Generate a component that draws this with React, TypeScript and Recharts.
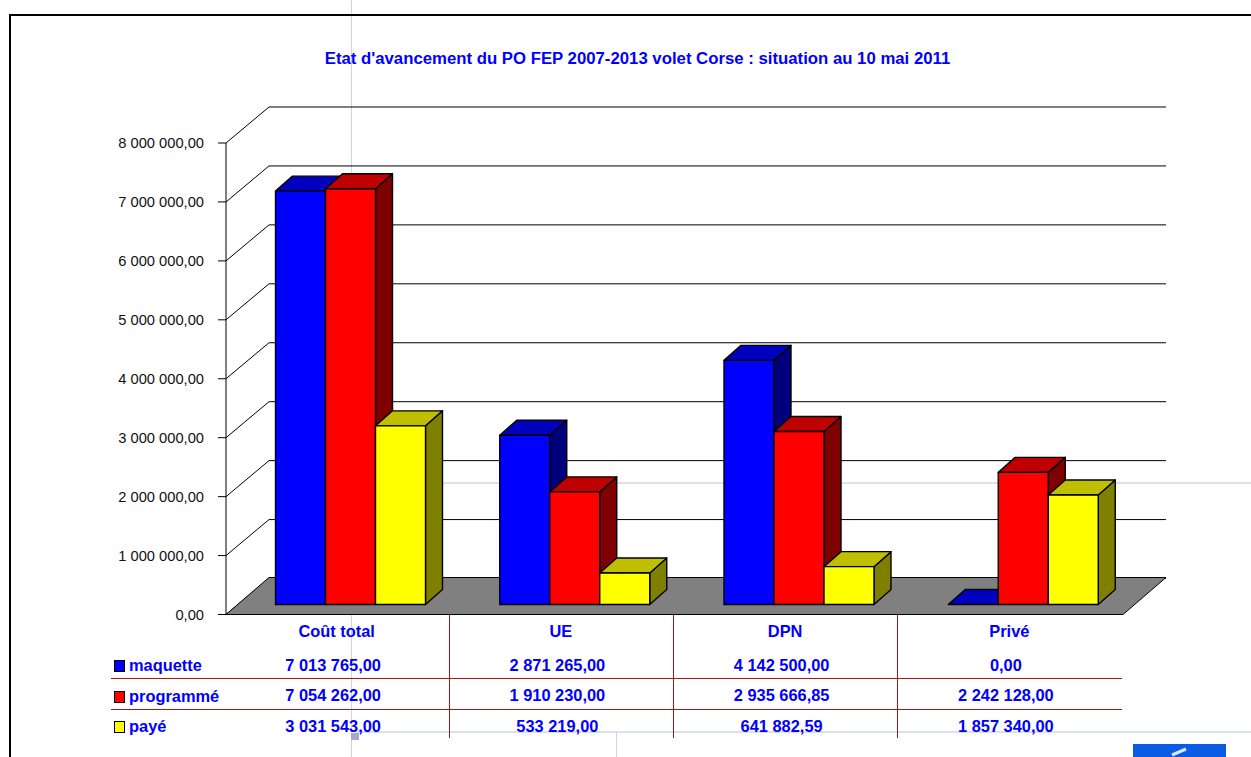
import React from "react";
import { BarChart, Bar, XAxis, YAxis, CartesianGrid, Legend, ReferenceArea } from "recharts";

const categories = ["Coût total", "UE", "DPN", "Privé"];
const maquette = [7013765, 2871265, 4142500, 0];
const programme = [7054262, 1910230, 2935666.85, 2242128];
const paye = [3031543, 533219, 641882.59, 1857340];
const yTicks = [0, 1000000, 2000000, 3000000, 4000000, 5000000, 6000000, 7000000, 8000000];
const seriesNames = ["maquette", "programmé", "payé"];
const seriesColors = ["#0000FF", "#FF0000", "#FFFF00"];
const topColors = ["#0000BF", "#BF0000", "#BFBF00"];
const sideColors = ["#00007F", "#7F0000", "#7F7F00"];

const tableData = categories.map((name, i) => ({
  name,
  maquette: maquette[i],
  programme: programme[i],
  paye: paye[i],
}));

const FONT = '"Liberation Sans", Arial, sans-serif';
const BLUE = "#0000FF";
const WALL_DX = 43;
const GRID_DY = 36;
const FLOOR_DY = 37;
const BAR_DX = 12.5;
const BAR_DY = 10;
const DEPTH_X = 17;
const DEPTH_Y = 15;

const fmt = (v: number) => {
  const [a, b] = v.toFixed(2).split(".");
  return a.replace(/\B(?=(\d{3})+(?!\d))/g, " ") + "," + b;
};

const makeBarShape = (s: number) => (p: any) => {
  const x = p.x + BAR_DX;
  const y = p.y - BAR_DY;
  const w = p.width;
  const h = p.height;
  const stroke = { stroke: "#000", strokeWidth: 1.4, strokeLinejoin: "round" as const };
  return (
    <g>
      {h > 0 && (
        <polygon
          points={`${x + w},${y} ${x + w + DEPTH_X},${y - DEPTH_Y} ${x + w + DEPTH_X},${y + h - DEPTH_Y} ${x + w},${y + h}`}
          fill={sideColors[s]}
          {...stroke}
        />
      )}
      <polygon
        points={`${x},${y} ${x + DEPTH_X},${y - DEPTH_Y} ${x + w + DEPTH_X},${y - DEPTH_Y} ${x + w},${y}`}
        fill={topColors[s]}
        {...stroke}
      />
      {h > 0 && <rect x={x} y={y} width={w} height={h} fill={seriesColors[s]} {...stroke} />}
    </g>
  );
};

const GridLine = (p: any) => (
  <polyline
    key={p.key}
    points={`${p.x1},${p.y1} ${p.x1 + WALL_DX},${p.y1 - GRID_DY} ${p.x2 + WALL_DX},${p.y1 - GRID_DY}`}
    fill="none"
    stroke="#000"
    strokeWidth={1}
  />
);

const Floor = (p: any) => {
  const b = p.y + p.height;
  return (
    <polygon
      points={`${p.x},${b} ${p.x + WALL_DX},${b - FLOOR_DY} ${p.x + p.width + WALL_DX},${b - FLOOR_DY} ${p.x + p.width},${b}`}
      fill="#808080"
      stroke="#000"
      strokeWidth={1}
    />
  );
};

const tableStyle = { fontFamily: FONT, fontWeight: 700, fontSize: 16.4, fill: BLUE };

const TableTick = (p: any) => {
  const i = p.index;
  const cols = [maquette[i], programme[i], paye[i]];
  const rows = [671, 701, 732];
  return (
    <g>
      <text x={p.x - 1.5} y={637} textAnchor="middle" {...tableStyle}>
        {p.payload.value}
      </text>
      {cols.map((v, r) => (
        <text key={r} x={p.x - 5} y={rows[r]} textAnchor="middle" {...tableStyle}>
          {fmt(v)}
        </text>
      ))}
    </g>
  );
};

const YTick = (p: any) => (
  <text x={204} y={p.y + 5} textAnchor="end" fontFamily={FONT} fontSize={14.7} fill="#111">
    {fmt(p.payload.value)}
  </text>
);

const LegendContent = (props: any) => (
  <div style={{ position: "relative", width: 120, height: 90 }}>
    {(props.payload || []).map((e: any, i: number) => (
      <div key={i} style={{ position: "absolute", left: 0, top: i * 30.5, height: 20, whiteSpace: "nowrap" }}>
        <span
          style={{
            position: "absolute",
            left: 0,
            top: 4,
            width: 9,
            height: 10,
            background: e.color,
            border: "1px solid #000",
          }}
        />
        <span
          style={{
            position: "absolute",
            left: 15,
            top: 0,
            fontFamily: FONT,
            fontWeight: 700,
            fontSize: 16.4,
            color: BLUE,
          }}
        >
          {e.value}
        </span>
      </div>
    ))}
  </div>
);

const tableLines = { stroke: "#A01818", strokeWidth: 1 };

export default function App() {
  return (
    <div style={{ position: "absolute", left: 0, top: 0, width: 1251, height: 757, overflow: "hidden", background: "#fff" }}>
      {/* page furniture behind the chart */}
      <svg width={1251} height={757} style={{ position: "absolute", left: 0, top: 0 }}>
        <line x1={351.5} y1={0} x2={351.5} y2={757} stroke="#CDD2F0" strokeWidth={1} />
        <line x1={443} y1={483} x2={1251} y2={483} stroke="#DDE0EE" strokeWidth={2} />
        <line x1={355} y1={732} x2={1251} y2={732} stroke="#DDE0EE" strokeWidth={2} />
        <line x1={616.5} y1={732} x2={616.5} y2={757} stroke="#CDD2F0" strokeWidth={1} />
        <rect x={351} y={733} width={8} height={7} fill="#A4A9CF" />
        <line x1={10} y1={15} x2={1251} y2={15} stroke="#000" strokeWidth={2} />
        <line x1={10} y1={14} x2={10} y2={757} stroke="#000" strokeWidth={2} />
        <rect x={1133} y={744} width={93} height={13} fill="#0A5CE6" />
        <path d="M1172 755 L1186 749" stroke="#DCE8FA" strokeWidth={3} fill="none" />
      </svg>

      <div
        style={{
          position: "absolute",
          left: 0,
          top: 49,
          width: 1275,
          textAlign: "center",
          fontFamily: FONT,
          fontWeight: 700,
          fontSize: 16.75,
          color: BLUE,
          whiteSpace: "nowrap",
        }}
      >
        Etat d'avancement du PO FEP 2007-2013 volet Corse : situation au 10 mai 2011
      </div>

      <div style={{ position: "absolute", left: 0, top: 0 }}>
        <BarChart
          width={1251}
          height={757}
          data={tableData}
          margin={{ top: 143, right: 128, bottom: 0, left: 0 }}
          barSize={50}
          barGap={0}
        >
          <CartesianGrid vertical={false} horizontal={GridLine as any} />
          <ReferenceArea y1={0} y2={8000000} shape={Floor as any} />
          <XAxis
            dataKey="name"
            height={142.5}
            interval={0}
            tickLine={false}
            tick={TableTick as any}
            axisLine={{ stroke: "#000", strokeWidth: 1 }}
          />
          <YAxis
            width={226}
            domain={[0, 8000000]}
            ticks={yTicks}
            interval={0}
            tick={YTick as any}
            tickSize={8}
            tickLine={{ stroke: "#000" }}
            axisLine={{ stroke: "#000", strokeWidth: 1 }}
          />
          <Legend
            layout="horizontal"
            verticalAlign="middle"
            align="center"
            itemSorter={null}
            content={LegendContent as any}
            wrapperStyle={{ left: 114, top: 656, width: 120 }}
          />
          <Bar dataKey="maquette" name={seriesNames[0]} fill={seriesColors[0]} isAnimationActive={false} shape={makeBarShape(0) as any} />
          <Bar dataKey="programme" name={seriesNames[1]} fill={seriesColors[1]} isAnimationActive={false} shape={makeBarShape(1) as any} />
          <Bar dataKey="paye" name={seriesNames[2]} fill={seriesColors[2]} isAnimationActive={false} shape={makeBarShape(2) as any} />
        </BarChart>
      </div>

      <svg width={1251} height={757} style={{ position: "absolute", left: 0, top: 0, pointerEvents: "none" }}>
        {[450, 674, 898].map((x) => (
          <line key={x} x1={x - 0.5} y1={615} x2={x - 0.5} y2={738} {...tableLines} />
        ))}
        {[678.5, 709.5].map((y) => (
          <line key={y} x1={111} y1={y} x2={1122} y2={y} {...tableLines} />
        ))}
      </svg>
    </div>
  );
}
